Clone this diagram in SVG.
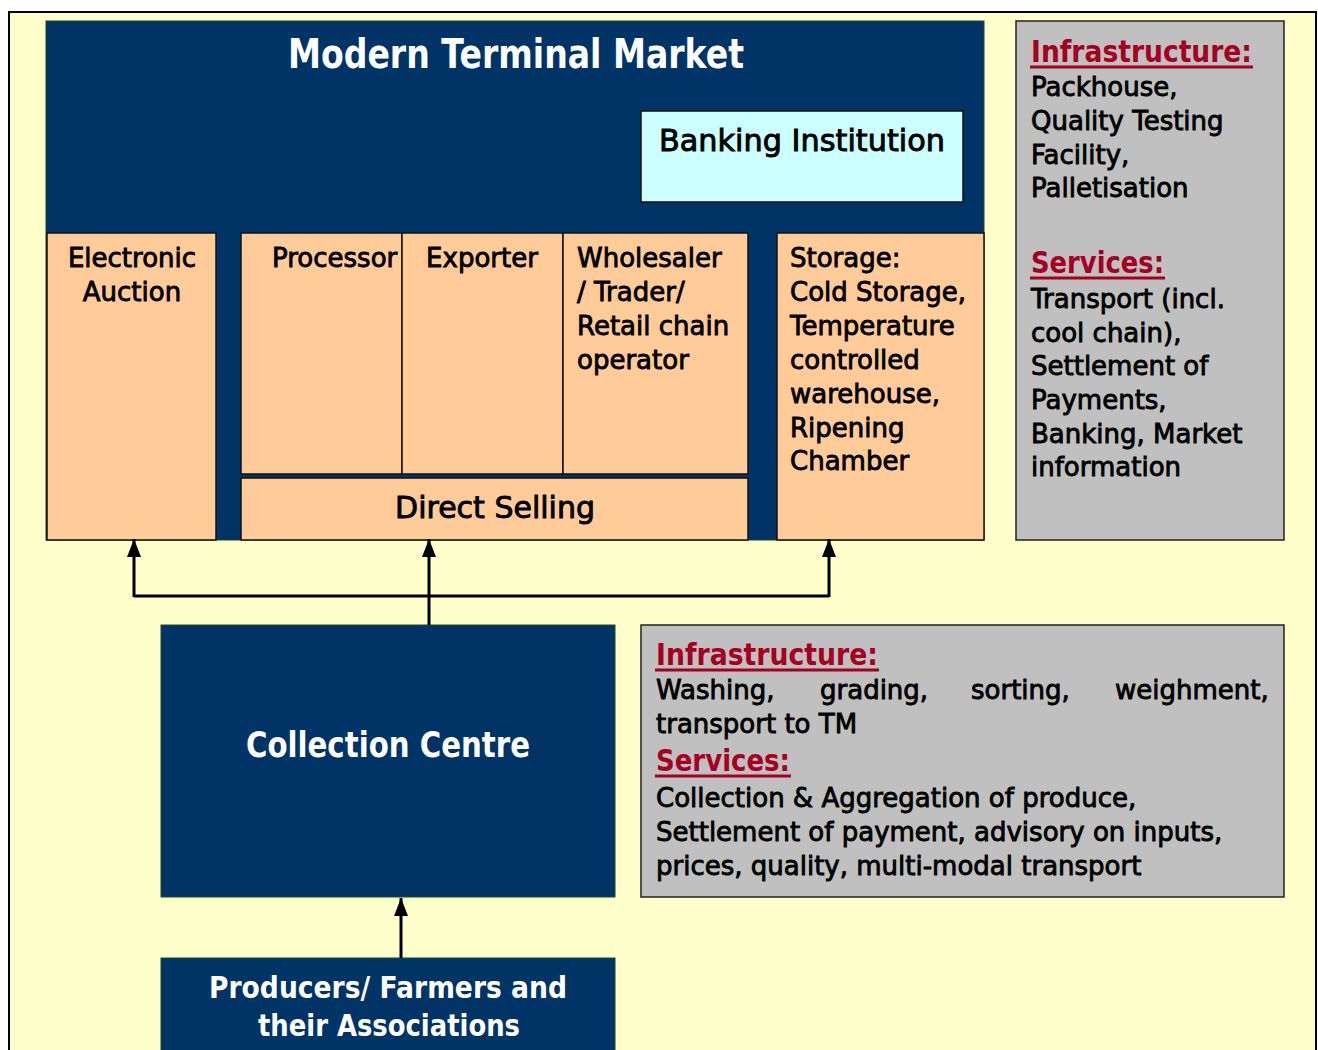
<svg xmlns="http://www.w3.org/2000/svg" width="1318" height="1050" viewBox="0 0 1318 1050">
<defs>
<style>
.navy{fill:#003366;stroke:#1f4a22;stroke-width:1}
.peach{fill:#FFCC99;stroke:#111;stroke-width:1.5}
.gray{fill:#C0C0C0;stroke:#222;stroke-width:1.5}
.t{font-family:"DejaVu Sans",Verdana,sans-serif;font-size:26px;fill:#000;stroke:#000;stroke-width:0.85}
.t30{font-family:"DejaVu Sans",Verdana,sans-serif;font-size:30px;fill:#000;stroke:#000;stroke-width:0.9}
.h{font-family:"DejaVu Sans",Verdana,sans-serif;font-weight:bold;font-size:30px;fill:#A50021}
.ul{stroke:#A50021;stroke-width:3}
.w{font-family:"DejaVu Sans",Verdana,sans-serif;font-weight:bold;fill:#fff}
.c{fill:none;stroke:#000;stroke-width:3}
</style>
<marker id="ah" viewBox="0 0 18 14" refX="18" refY="7" markerWidth="18" markerHeight="14" markerUnits="userSpaceOnUse" orient="auto">
<path d="M0,0 L18,7 L0,14 z" fill="#000"/>
</marker>
</defs>
<rect x="0" y="0" width="1318" height="1050" fill="#fff"/>
<rect id="page" x="9" y="12" width="1307" height="1100" fill="#FFFFCC" stroke="#000" stroke-width="2"/>

<g id="terminal-market">
<rect class="navy" x="46" y="21" width="938" height="519"/>
<text class="w" x="288" y="68" font-size="40" textLength="456" lengthAdjust="spacingAndGlyphs">Modern Terminal Market</text>
</g>

<g id="banking">
<rect x="641" y="111" width="322" height="91" fill="#CCFFFF" stroke="#111" stroke-width="1.5"/>
<text class="t30" x="659" y="151" textLength="286" lengthAdjust="spacingAndGlyphs">Banking Institution</text>
</g>

<g id="electronic-auction">
<rect class="peach" x="47" y="233" width="169" height="307"/>
<text class="t" text-anchor="middle"><tspan x="132" y="267">Electronic</tspan><tspan x="132" y="301">Auction</tspan></text>
</g>

<g id="processor">
<rect class="peach" x="241" y="233" width="161" height="241"/>
<text class="t" x="272" y="267">Processor</text>
</g>

<g id="exporter">
<rect class="peach" x="402" y="233" width="161" height="241"/>
<text class="t" x="482" y="267" text-anchor="middle">Exporter</text>
</g>

<g id="wholesaler">
<rect class="peach" x="563" y="233" width="185" height="241"/>
<text class="t"><tspan x="577" y="267">Wholesaler</tspan><tspan x="577" y="301">/ Trader/</tspan><tspan x="577" y="335">Retail chain</tspan><tspan x="577" y="369">operator</tspan></text>
</g>

<g id="direct-selling">
<rect class="peach" x="241" y="478" width="507" height="62"/>
<text class="t30" x="495" y="518" text-anchor="middle">Direct Selling</text>
</g>

<g id="storage">
<rect class="peach" x="777" y="233" width="207" height="307"/>
<text class="t"><tspan x="790" y="267">Storage:</tspan><tspan x="790" y="301">Cold Storage,</tspan><tspan x="790" y="335">Temperature</tspan><tspan x="790" y="369">controlled</tspan><tspan x="790" y="403">warehouse,</tspan><tspan x="790" y="437">Ripening</tspan><tspan x="790" y="470">Chamber</tspan></text>
</g>

<g id="tm-info">
<rect class="gray" x="1016" y="21" width="268" height="519"/>
<text class="h" x="1031" y="62" textLength="221" lengthAdjust="spacingAndGlyphs">Infrastructure:</text>
<line class="ul" x1="1030" y1="67" x2="1253" y2="67"/>
<text class="t"><tspan x="1031" y="96">Packhouse,</tspan><tspan x="1031" y="130">Quality Testing</tspan><tspan x="1031" y="164">Facility,</tspan><tspan x="1031" y="197">Palletisation</tspan></text>
<text class="h" x="1031" y="273" textLength="133" lengthAdjust="spacingAndGlyphs">Services:</text>
<line class="ul" x1="1030" y1="278" x2="1165" y2="278"/>
<text class="t"><tspan x="1031" y="308">Transport (incl.</tspan><tspan x="1031" y="342">cool chain),</tspan><tspan x="1031" y="375">Settlement of</tspan><tspan x="1031" y="409">Payments,</tspan><tspan x="1031" y="443">Banking, Market</tspan><tspan x="1031" y="476">information</tspan></text>
</g>

<g id="collection-centre">
<rect class="navy" x="161" y="625" width="454" height="272"/>
<text class="w" x="246" y="757" font-size="36" textLength="284" lengthAdjust="spacingAndGlyphs">Collection Centre</text>
</g>

<g id="cc-info">
<rect class="gray" x="641" y="625" width="643" height="272"/>
<text class="h" x="656" y="665" textLength="222" lengthAdjust="spacingAndGlyphs">Infrastructure:</text>
<line class="ul" x1="655" y1="670" x2="879" y2="670"/>
<text class="t" y="699"><tspan x="656">Washing,</tspan><tspan x="820">grading,</tspan><tspan x="971">sorting,</tspan><tspan x="1115">weighment,</tspan></text>
<text class="t" x="656" y="733">transport to TM</text>
<text class="h" x="656" y="771" textLength="134" lengthAdjust="spacingAndGlyphs">Services:</text>
<line class="ul" x1="655" y1="776" x2="791" y2="776"/>
<text class="t"><tspan x="656" y="807">Collection &amp; Aggregation of produce,</tspan><tspan x="656" y="841">Settlement of payment, advisory on inputs,</tspan><tspan x="656" y="875">prices, quality, multi-modal transport</tspan></text>
</g>

<g id="producers">
<rect class="navy" x="161" y="958" width="454" height="110"/>
<text class="w" font-size="30"><tspan x="209" y="998" textLength="358" lengthAdjust="spacingAndGlyphs">Producers/ Farmers and</tspan><tspan x="258" y="1036" textLength="262" lengthAdjust="spacingAndGlyphs">their Associations</tspan></text>
</g>

<g id="connectors">
<path class="c" d="M429,625 V539" marker-end="url(#ah)"/>
<path class="c" d="M134,596 H829"/>
<path class="c" d="M134,597 V539" marker-end="url(#ah)"/>
<path class="c" d="M829,597 V539" marker-end="url(#ah)"/>
<path class="c" d="M401,958 V898" marker-end="url(#ah)"/>
</g>
</svg>
